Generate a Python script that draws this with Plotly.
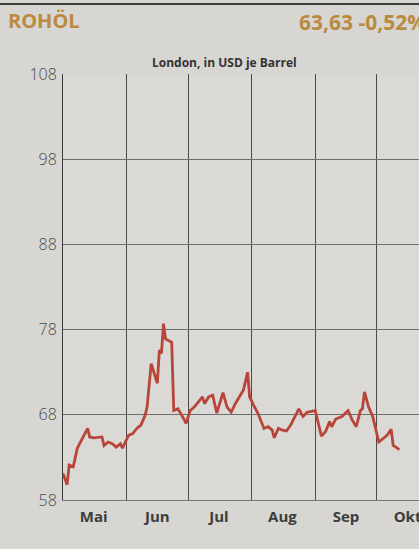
import plotly.graph_objects as go

# Brent (London), USD je Barrel
dates = [
    "2025-05-01", "2025-05-03", "2025-05-04", "2025-05-06", "2025-05-08", "2025-05-11",
    "2025-05-13", "2025-05-14", "2025-05-16", "2025-05-20", "2025-05-21", "2025-05-23",
    "2025-05-25", "2025-05-27", "2025-05-29", "2025-05-30", "2025-05-31",
    "2025-06-02", "2025-06-04", "2025-06-06", "2025-06-08", "2025-06-10", "2025-06-11",
    "2025-06-13", "2025-06-16", "2025-06-17", "2025-06-18", "2025-06-19", "2025-06-20",
    "2025-06-23", "2025-06-24", "2025-06-26", "2025-06-28", "2025-06-30",
    "2025-07-02", "2025-07-04", "2025-07-08", "2025-07-09", "2025-07-11", "2025-07-13",
    "2025-07-15", "2025-07-18", "2025-07-20", "2025-07-22", "2025-07-24", "2025-07-28",
    "2025-07-30", "2025-07-31",
    "2025-08-02", "2025-08-04", "2025-08-07", "2025-08-09", "2025-08-11", "2025-08-12",
    "2025-08-14", "2025-08-16", "2025-08-18", "2025-08-20", "2025-08-24", "2025-08-26",
    "2025-08-28",
    "2025-09-01", "2025-09-04", "2025-09-06", "2025-09-08", "2025-09-09", "2025-09-11",
    "2025-09-14", "2025-09-17", "2025-09-19", "2025-09-21", "2025-09-23", "2025-09-24",
    "2025-09-25", "2025-09-27", "2025-09-29",
    "2025-10-02", "2025-10-04", "2025-10-06", "2025-10-08", "2025-10-09", "2025-10-11",
    "2025-10-12",
]
prices = [
    61.1, 59.8, 62.1, 61.9, 64.1, 65.4, 66.4, 65.4, 65.3, 65.4, 64.4, 64.8, 64.6, 64.2,
    64.6, 64.1, 64.6,
    65.6, 65.8, 66.4, 66.8, 67.9, 68.9, 74.0, 71.7, 75.6, 75.2, 78.7, 76.9, 76.5, 68.5,
    68.7, 67.9, 67.0,
    68.5, 68.9, 70.1, 69.3, 70.1, 70.3, 68.2, 70.6, 68.9, 68.3, 69.3, 70.9, 73.0, 70.1,
    69.1, 68.2, 66.4, 66.6, 66.2, 65.3, 66.4, 66.2, 66.1, 66.8, 68.7, 67.8, 68.3,
    68.5, 65.5, 66.0, 67.2, 66.6, 67.5, 67.8, 68.5, 67.4, 66.6, 68.5, 68.7, 70.7, 68.9,
    67.8,
    64.8, 65.2, 65.6, 66.3, 64.4, 64.1, 63.9,
]

month_mid = ["2025-05-16", "2025-06-16", "2025-07-16", "2025-08-16", "2025-09-16", "2025-10-16"]
month_labels = ["Mai", "Jun", "Jul", "Aug", "Sep", "Okt"]
y_ticks = [58, 68, 78, 88, 98, 108]

title = "ROHÖL"
last_quote = "63,63 -0,52%"
subtitle = "London, in USD je Barrel"

paper = "#d7d6d2"
gold = "#b98a3f"

fig = go.Figure()

fig.add_trace(go.Scatter(
    x=dates,
    y=prices,
    mode="lines",
    line=dict(color="#b8453a", width=2.8),
    hoverinfo="skip",
))

fig.update_layout(
    width=419,
    height=549,
    margin=dict(l=63, r=0, t=74, b=49, autoexpand=False),
    paper_bgcolor=paper,
    plot_bgcolor="#dad9d5",
    showlegend=False,
    font=dict(family="Open Sans", color="#3a3a3a"),
    xaxis=dict(
        type="date",
        range=["2025-05-01", "2025-10-21 14:00"],
        automargin=False,
        tickmode="array",
        tickvals=month_mid,
        ticktext=month_labels,
        ticks="",
        showgrid=False,
        zeroline=False,
        showline=True,
        linecolor="#7a7a7a",
        linewidth=1,
        tickfont=dict(size=15, weight="bold", color="#3c3c3c"),
        ticklabelstandoff=3,
        ticklabeloverflow="allow",
        minor=dict(
            tick0="2025-05-01",
            dtick="M1",
            showgrid=True,
            gridcolor="#4a4a4a",
            gridwidth=1,
            ticks="",
        ),
    ),
    yaxis=dict(
        range=[58, 108],
        automargin=False,
        tickmode="array",
        tickvals=y_ticks,
        ticks="",
        showgrid=True,
        gridcolor="#6e6e6e",
        gridwidth=1,
        zeroline=False,
        showline=True,
        linecolor="#3a3a3a",
        linewidth=1,
        tickfont=dict(size=16, weight=300, color="#4a4a4a"),
        ticklabelstandoff=2,
    ),
)

# Kopfzeile wie in der Zeitung
fig.add_annotation(
    text=title, xref="paper", yref="paper", x=-0.16, y=1.125,
    xanchor="left", yanchor="middle", showarrow=False,
    font=dict(size=20, weight="bold", color=gold),
)
fig.add_annotation(
    text=last_quote, xref="paper", yref="paper", x=0.658, y=1.123,
    xanchor="left", yanchor="middle", showarrow=False,
    font=dict(size=21, weight="bold", color=gold),
)
fig.add_annotation(
    text=subtitle, xref="paper", yref="paper", x=0.455, y=1.028,
    xanchor="center", yanchor="middle", showarrow=False,
    font=dict(size=12, weight="bold", color="#333333"),
)

# dunkler Rubrikstrich ganz oben, als schmale Annotationsfläche
fig.add_annotation(
    text=" ", xref="paper", yref="paper", x=-0.177, y=1.1643,
    xanchor="left", yanchor="middle", showarrow=False,
    width=430, height=2, borderpad=0, borderwidth=0,
    bgcolor="#3f3f3f", font=dict(size=1),
)

# Seitenrand des Browsers entfernen, damit die Grafik bei 0,0 beginnt
fig.write_html(
    "out.html",
    config={"displayModeBar": False},
    post_script="document.body.style.margin='0';document.body.style.overflow='hidden';",
)
